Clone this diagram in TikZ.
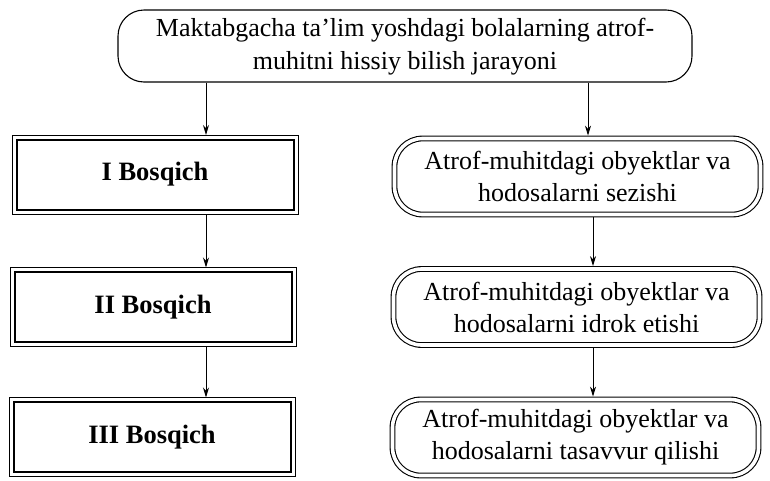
\documentclass[tikz,border=0pt]{standalone}
\usepackage{fontspec}
\setmainfont{Liberation Serif}
\usetikzlibrary{arrows.meta}
\begin{document}
\begin{tikzpicture}[x=1pt,y=-1pt,
  topbox/.style={draw, line width=1.1pt, rounded corners=26pt, minimum width=574pt, minimum height=72pt, inner sep=0pt, font=\fontsize{26}{33}\selectfont},
  stagebox/.style={draw, line width=2pt, minimum width=277pt, minimum height=70pt, outer sep=4.5pt, inner sep=0pt, font=\fontsize{26.5}{30}\selectfont\bfseries},
  procbox/.style={draw, double, double distance=3.6pt, line width=1.1pt, rounded corners=28pt, minimum width=366pt, minimum height=76pt, outer sep=2.9pt, align=center, inner sep=0pt, font=\fontsize{26}{32}\selectfont},
  arr/.style={line width=1pt, -{Stealth[length=10pt,width=6pt]}},
  outerframe/.style={line width=0.9pt}
]
\useasboundingbox (0,0) rectangle (770,480);
\node[topbox] (top) at (405,46) {\raisebox{-4pt}{\begin{tabular}{@{}c@{}}Maktabgacha ta’lim yoshdagi bolalarning atrof-\\muhitni hissiy bilish jarayoni\end{tabular}}};

\node[stagebox] (s1) at (155,174.5) {I Bosqich};
\node[stagebox] (s2) at (153,307) {II Bosqich};
\node[stagebox] (s3) at (152,437) {III Bosqich};
\foreach \n in {s1,s2,s3}
  \draw[outerframe] (\n.north west) rectangle (\n.south east);

\node[procbox] (p1) at (577.5,176.5) {Atrof-muhitdagi obyektlar va\\hodosalarni sezishi};
\node[procbox] (p2) at (576.5,307) {Atrof-muhitdagi obyektlar va\\hodosalarni idrok etishi};
\node[procbox] (p3) at (575.5,437.5) {Atrof-muhitdagi obyektlar va\\hodosalarni tasavvur qilishi};

\coordinate (la) at (206,0);
\coordinate (ra) at (588,0);
\coordinate (rb) at (593,0);
\draw[arr] (top.south -| la) -- (s1.north -| la);
\draw[arr] (s1.south -| la) -- (s2.north -| la);
\draw[arr] (s2.south -| la) -- (s3.north -| la);
\draw[arr] (top.south -| ra) -- (p1.north -| ra);
\draw[arr] (p1.south -| rb) -- (p2.north -| rb);
\draw[arr] (p2.south -| rb) -- (p3.north -| rb);
\end{tikzpicture}
\end{document}
